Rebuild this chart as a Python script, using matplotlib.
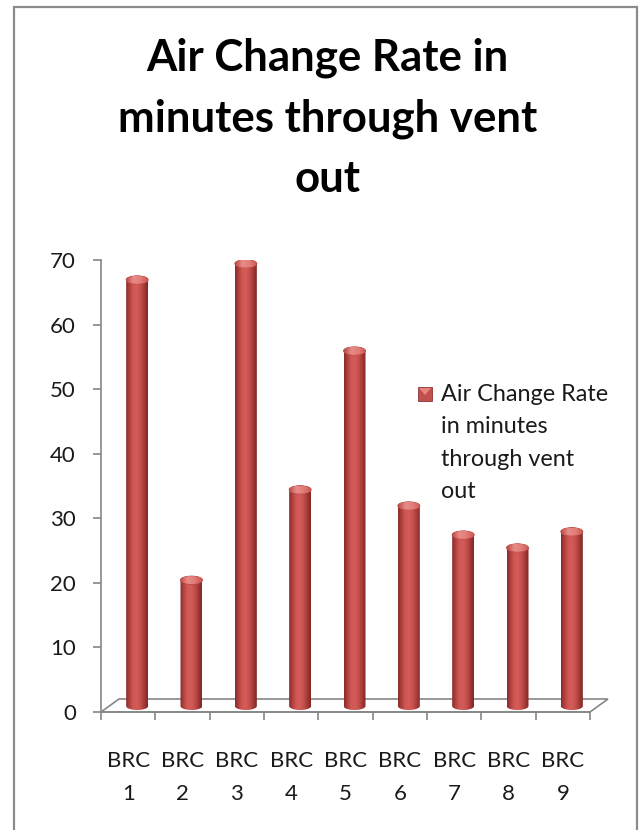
import numpy as np
import matplotlib
matplotlib.use("Agg")
import matplotlib.pyplot as plt
from matplotlib.colors import LinearSegmentedColormap
from matplotlib.patches import PathPatch, Ellipse, Rectangle, Polygon
from matplotlib.path import Path

plt.rcParams['font.family'] = ['Lato', 'DejaVu Sans']

# data
categories = ['BRC\n1', 'BRC\n2', 'BRC\n3', 'BRC\n4', 'BRC\n5',
              'BRC\n6', 'BRC\n7', 'BRC\n8', 'BRC\n9']
air_change = [66, 19.5, 68.5, 33.5, 55, 31, 26.5, 24.5, 27]
series_name = 'Air Change Rate\nin minutes\nthrough vent\nout'
title = 'Air Change Rate in\nminutes through vent\nout'
yticks = [0, 10, 20, 30, 40, 50, 60, 70]

W, H = 639, 830
fig = plt.figure(figsize=(W / 100, H / 100), dpi=100)


def fpx(x, y):
    # pixel position -> figure fraction
    return x / W, 1 - y / H


# plot area
ax_l, ax_r, ax_t, ax_b = 101, 590, 260, 712
ax = fig.add_axes([ax_l / W, 1 - ax_b / H, (ax_r - ax_l) / W, (ax_b - ax_t) / H])
ax.set_xlim(-0.5, 8.5)
ax.set_ylim(0, 70)
px_x = (ax_r - ax_l) / 9.0
px_y = (ax_b - ax_t) / 70.0

axis_grey = '#868686'

# outer chart frame
fig.patches.append(Rectangle(fpx(14, 845), (637 - 14) / W, (845 - 7) / H,
                             transform=fig.transFigure, fill=False,
                             edgecolor='#8C8C8C', linewidth=1.6))

# floor of the 3d plot (depth shift of the back edge)
fdx, fdy = 18 / px_x, 13 / px_y
floor = Polygon([(-0.5, 0), (8.5, 0), (8.5 + fdx, fdy), (-0.5 + fdx, fdy)],
                closed=True, fill=False, edgecolor=axis_grey, linewidth=1.2,
                clip_on=False, zorder=1)
ax.add_patch(floor)

# cylinders sit half way into the floor depth
bdx, bdy = 9 / px_x, 6 / px_y
bw = 22 / px_x
eh = 4 / px_y
xs = np.arange(len(categories))

body_cmap = LinearSegmentedColormap.from_list(
    'body', ['#842C2A', '#B4423F', '#D05955', '#D45C58', '#C44F4C', '#A53A37', '#7A2725'])
cap_cmap = LinearSegmentedColormap.from_list(
    'cap', ['#B84845', '#E88C88', '#E37C78', '#C95752'])

bars = ax.bar(xs + bdx, air_change, bottom=bdy, width=bw,
              color='none', linewidth=0)
grad = np.linspace(0, 1, 256)[None, :]
t_lo = np.linspace(np.pi, 2 * np.pi, 40)
t_hi = np.linspace(0, np.pi, 40)
for rect in bars:
    x0 = rect.get_x()
    w = rect.get_width()
    xc = x0 + w / 2
    y0 = rect.get_y()
    y1 = y0 + rect.get_height()
    # outline of the cylinder body: bottom arc, right side, top arc, left side
    verts = np.concatenate([
        np.column_stack([xc + w / 2 * np.cos(t_lo), y0 + eh * np.sin(t_lo)]),
        np.column_stack([xc + w / 2 * np.cos(t_hi), y1 + eh * np.sin(t_hi)]),
    ])
    verts = np.vstack([verts, verts[:1]])
    clip = PathPatch(Path(verts, closed=True), transform=ax.transData,
                     facecolor='none', edgecolor='none')
    ax.add_patch(clip)
    im = ax.imshow(grad, extent=(x0, x0 + w, y0 - eh, y1 + eh), aspect='auto',
                   cmap=body_cmap, interpolation='bicubic', zorder=2)
    im.set_clip_path(clip)
    # top cap
    cap = Ellipse((xc, y1), w, 2 * eh, facecolor='#DC6F6B',
                  edgecolor='#B5423F', linewidth=0.6, zorder=3)
    ax.add_patch(cap)
    im2 = ax.imshow(grad, extent=(x0, x0 + w, y1 - eh, y1 + eh), aspect='auto',
                    cmap=cap_cmap, interpolation='bicubic', zorder=3.5)
    im2.set_clip_path(cap)

ax.set_xlim(-0.5, 8.5)
ax.set_ylim(0, 70)

# axes styling
for side in ['top', 'right']:
    ax.spines[side].set_visible(False)
for side in ['left', 'bottom']:
    ax.spines[side].set_color(axis_grey)
    ax.spines[side].set_linewidth(1.2)

ax.set_yticks(yticks)
ax.set_yticklabels([str(v) for v in yticks])
ax.tick_params(axis='y', length=6, width=1.2, color=axis_grey, pad=12,
               labelsize=16, labelcolor='#1A1A1A')

ax.set_xticks(xs)
ax.set_xticklabels(categories, linespacing=1.82)
ax.set_xticks(np.arange(-0.5, 9.0, 1.0), minor=True)
ax.tick_params(axis='x', which='major', length=0, pad=28,
               labelsize=16, labelcolor='#1A1A1A')
ax.tick_params(axis='x', which='minor', length=6, width=1.2, color=axis_grey)

ax.patch.set_visible(False)

# title
fig.text(0.513, 1 - 38 / H, title, ha='center', va='top', fontsize=31.5,
         fontweight='bold', linespacing=1.6, color='black')

# legend
lx, ly = fpx(418, 401)
fig.patches.append(Rectangle((lx, ly), 14 / W, 14 / H, transform=fig.transFigure,
                             facecolor='#C0504D', edgecolor='#8E3431', linewidth=0.6))
fig.patches.append(Polygon([fpx(419, 388), fpx(431, 388), fpx(425, 395)],
                           closed=True, transform=fig.transFigure,
                           facecolor='#E8847F', edgecolor='none'))
fig.text(441 / W, 1 - 384 / H, series_name, ha='left', va='top', fontsize=16.8,
         linespacing=1.67, color='#1A1A1A')

fig.savefig('out.png', dpi=100)
